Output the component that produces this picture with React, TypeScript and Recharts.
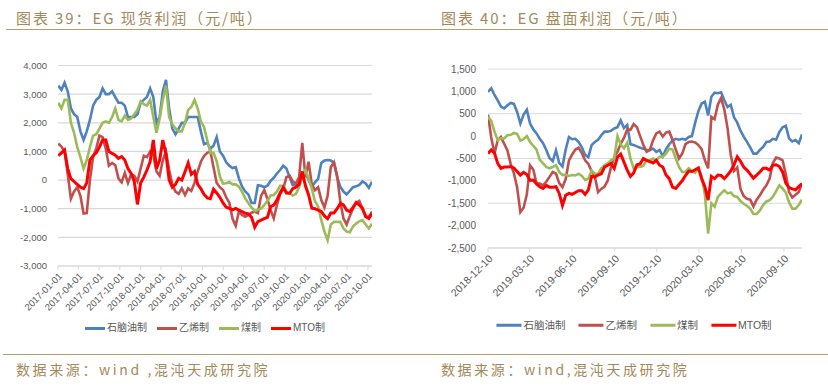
import React from "react";
import { CartesianGrid, Line, LineChart, XAxis, YAxis } from "recharts";

const seriesNames = ["石脑油制", "乙烯制", "煤制", "MTO制"];
const seriesKeys = ["naphtha", "ethylene", "coal", "mto"];
const seriesColors = ["#4F81BD", "#C0504D", "#9BBB59", "#FF0000"];

// 图表 39: spot profit, one reading every 14 days from 2017-01-02
const spotStart = "2017-01-02";
const spotStepDays = 14;
const spotNaphtha = [
  3300, 3150, 3400, 3100, 2500, 2300, 2200, 1700, 1400, 1700,
  2100, 2600, 2800, 2900, 3200, 3000, 3000, 3100, 2900, 2700,
  2700, 2600, 2200, 2200, 2200, 2300, 2700, 2800, 2900, 3200,
  2900, 2000, 2200, 3100, 3500, 2500, 1800, 1600, 1800, 2000,
  2000, 2200, 2200, 2200, 2200, 1700, 1250, 1300, 1100, 1200,
  1500, 1000, 850, 620, 500, 420, 450, 60, -220, -400,
  -500, -800, -800, -180, -200, -250, -200, -30, 80, 230,
  350, 500, 400, 100, -180, -150, -50, 60, 250, 0,
  -230, -80, 40, 600, 680, 700, 680, 600, 100, -230,
  -400, -500, -380, -250, -220, -170, -50, -120, -270, -60,
];
const spotEthylene = [
  1280, 1170, 1000, 200, -650, -400, -250, -550, -1165, -1150,
  0, 800, 1100, 1550, 1500, 1100, 500, 600, 520, 60,
  -80, 250, -100, 200, 150, -50, 400, 850, 800, 1000,
  870, 300, 150, 700, 1000, 350, -150, -400, -480, -290,
  -520, -290, -380, -100, 300, 640, 840, 950, 1000, 450,
  -100, -250, -350, -600, -800, -1350, -1600, -1100, -1220, -1280,
  -1220, -1140, -1100, -1150, -550, -350, -650, -1050, -1340, -870,
  -500, -300, 100, 150, -50, -120, 100, 1300, 100, 640,
  -150, -350, -250, -700, -950, -550, 450, 620, 150, -760,
  -1340, -1550, -1250, -1000, -800, -730, -1000, -1250, -1300, -1100,
];
const spotCoal = [
  2700, 2500, 2800, 2800, 2000, 1650, 1150, 800, 400, 700,
  1150, 1550, 1600, 1800, 2000, 2050, 2000, 2200, 2500, 2100,
  2050, 2250, 2100, 2150, 2300, 2450, 2750, 2650, 2600, 2800,
  2200, 1650, 2150, 2800, 3300, 2200, 1950, 1800, 1700, 1700,
  2000, 2450, 2550, 2800, 2500, 2050, 1850, 1400, 950, 950,
  660, 120, -120, -110, -70, -150, -150, -230, -410, -640,
  -800, -960, -1080, -1040, -1000, -870, -730, -540, -520, -400,
  -200, -200, -400, -460, -540, -480, -250, 130, 350, 60,
  -290, -740, -920, -1400, -1800, -2100, -1550, -1460, -1460, -1460,
  -1690, -1800, -1820, -1620, -1520, -1440, -1400, -1550, -1690, -1520,
];
const spotMto = [
  850, 950, 1050, 400, 50, -50, -150, -250, -300, -100,
  700, 850, 950, 1150, 1400, 1400, 1000, 930, 870, 760,
  820, 700, 400, 230, -50, -850, -100, 100, 350, 640,
  1400, 400, 700, 1400, 900, 0, -250, -150, 60, 0,
  290, 600, 200, 300, -150, -300, -500, -620, -650, -320,
  -450, -600, -800, -950, -990, -1040, -990, -1050, -1100, -1160,
  -1180, -1300, -1650, -1450, -1400, -1350, -1300, -930, -870, -700,
  -450, -250, -450, -460, -300, -250, -150, 300, -200, -520,
  -980, -1000, -1050, -1100, -1250, -1350, -1150, -1150, -1000, -815,
  -870, -1050, -1100, -950, -780, -870, -990, -1280, -1340, -1160,
];
const spotXTicks = [
  "2017-01-01", "2017-04-01", "2017-07-01", "2017-10-01",
  "2018-01-01", "2018-04-01", "2018-07-01", "2018-10-01",
  "2019-01-01", "2019-04-01", "2019-07-01", "2019-10-01",
  "2020-01-01", "2020-04-01", "2020-07-01", "2020-10-01",
];
const spotYTicks = [-3000, -2000, -1000, 0, 1000, 2000, 3000, 4000];
const spotXEnd = "2020-10-19";

// 图表 40: futures profit, one reading every 7 days from 2018-12-10
const futStart = "2018-12-10";
const futStepDays = 7;
const futNaphtha = [
  990, 1070, 920, 800, 660, 620, 690, 740, 720, 540,
  280, 480, 590, 280, 150, 60, -60, -160, -310, -490,
  -560, -320, -600, -680, -300, -20, -70, -60, -130, -250,
  -420, -470, -200, -130, -80, 20, 100, 100, 120, 170,
  200, 350, 180, 250, -180, -200, -230, -260, -280, -310,
  -310, -280, -350, -310, -450, -290, -180, -100, -60, -80,
  -60, -80, -20, 0, 300, 560, 730, 770, 460, 880,
  970, 960, 980, 800, 650, 700, 420, 300, 120, -10,
  -130, -250, -390, -390, -310, -240, -130, -120, -60, -80,
  90, 200, 230, -50, -120, -90, -160, 40,
];
const futEthylene = [
  480, -30, -390, -90, -20, -170, -320, -620, -830, -1150,
  -1700, -1600, -1300, -650, -750, -1060, -1060, -1100, -1020, -910,
  -800, -840, -1050, -1140, -960, -550, -410, -300, -260, -380,
  -540, -620, -780, -900, -1250, -1180, -1130, -990, -690, -470,
  -350, -170, -40, 150, 140, 270, 200, 0, -200, -350,
  -310, -90, 60, 100, -10, 80, 100, -80, -300, -500,
  -390, -180, -130, -120, -140, -200, -290, -540, -720, 430,
  380, 700, 850, 600, 180, -420, -780, -700, -1180, -1340,
  -1400, -1420, -1570, -1420, -1320, -1200, -1100, -950, -600, -480,
  -500, -540, -850, -1250, -1370, -1310, -1250, -1060,
];
const futCoal = [
  430, 340, 100, -90, -50, -50, 20, 30, 70, 50,
  -100, -70, 0, -130, -220, -300, -530, -610, -690, -720,
  -690, -650, -800, -870, -860, -890, -870, -880, -840, -890,
  -980, -950, -770, -840, -840, -720, -650, -610, -540, -500,
  0, -190, -270, -150, -500, -720, -690, -690, -660, -540,
  -540, -500, -540, -460, -460, -390, -280, -300, -500, -690,
  -800, -800, -720, -780, -820, -720, -910, -1300, -2180, -1500,
  -1580, -1360, -1280, -1210, -1280, -1260, -1340, -1360, -1450, -1510,
  -1560, -1620, -1740, -1740, -1660, -1540, -1460, -1430, -1360, -1230,
  -1100, -1170, -1260, -1480, -1620, -1620, -1540, -1420,
];
const futMto = [
  -390, -310, -380, -610, -720, -690, -690, -680, -710, -790,
  -870, -810, -860, -990, -980, -1070, -1130, -1170, -1100, -1140,
  -1140, -1130, -1280, -1550, -1320, -1280, -1300, -1260, -1220, -1220,
  -1300, -1200, -900, -910, -870, -840, -690, -650, -610, -720,
  -470, -400, -580, -760, -900, -820, -640, -620, -500, -540,
  -570, -600, -540, -650, -690, -870, -950, -1140, -1170, -1080,
  -1000, -880, -780, -790, -750, -710, -950, -1130, -1430, -900,
  -950, -870, -880, -950, -870, -780, -640, -460, -560, -690,
  -760, -850, -940, -870, -800, -720, -720, -760, -650, -640,
  -680, -800, -1050, -1150, -1180, -1200, -1130, -1060,
];
const futXTicks = [
  "2018-12-10", "2019-03-10", "2019-06-10", "2019-09-10",
  "2019-12-10", "2020-03-10", "2020-06-10", "2020-09-10",
];
const futYTicks = [-2500, -2000, -1500, -1000, -500, 0, 500, 1000, 1500];
const futXEnd = "2020-10-19";

const DAY = 86400000;
const ms = (d: string) => Date.parse(d);
const fmtDate = (v: number) => new Date(v).toISOString().slice(0, 10);
const fmtNum = (v: number) => v.toLocaleString("en-US");

function buildRows(start: string, step: number, cols: number[][]) {
  const t0 = ms(start);
  return cols[0].map((_, i) => {
    const row: Record<string, number> = { t: t0 + i * step * DAY };
    seriesKeys.forEach((k, j) => (row[k] = cols[j][i]));
    return row;
  });
}

const spotRows = buildRows(spotStart, spotStepDays, [spotNaphtha, spotEthylene, spotCoal, spotMto]);
const futRows = buildRows(futStart, futStepDays, [futNaphtha, futEthylene, futCoal, futMto]);

const FONT = '"Liberation Sans", Arial, "Noto Sans CJK SC", sans-serif';
const CJK = '"Noto Sans CJK SC", sans-serif';
const TAN = "#A4895A";
const AXIS_TXT = "#595959";

type PanelProps = {
  rows: Record<string, number>[];
  xTicks: string[];
  xStart: string;
  xEnd: string;
  yTicks: number[];
  margin: { top: number; right: number; bottom: number; left: number };
  yFont: number;
  xFont: number;
  yGap: number;
};

function ProfitPanel({ rows, xTicks, xStart, xEnd, yTicks, margin, yFont, xFont, yGap }: PanelProps) {
  return (
    <LineChart width={414} height={320} data={rows} margin={margin}>
      <CartesianGrid vertical={false} stroke="#D9D9D9" strokeWidth={1.2} />
      <XAxis
        dataKey="t"
        type="number"
        domain={[ms(xStart), ms(xEnd)]}
        ticks={xTicks.map(ms)}
        tickFormatter={fmtDate}
        interval={0}
        height={50}
        angle={-45}
        textAnchor="end"
        tickSize={4}
        tickMargin={2}
        stroke="#D9D9D9"
        tick={{ fill: AXIS_TXT, fontSize: xFont, fontFamily: FONT }}
        allowDataOverflow
      />
      <YAxis
        type="number"
        domain={[yTicks[0], yTicks[yTicks.length - 1]]}
        ticks={yTicks}
        tickFormatter={fmtNum}
        width={50}
        axisLine={false}
        tickLine={false}
        tickSize={0}
        tickMargin={yGap}
        tick={{ fill: AXIS_TXT, fontSize: yFont, fontFamily: FONT }}
      />
      {seriesKeys.map((k, i) => (
        <Line
          key={k}
          dataKey={k}
          type="linear"
          stroke={seriesColors[i]}
          strokeWidth={i === 3 ? 3 : 2.6}
          dot={false}
          isAnimationActive={false}
        />
      ))}
    </LineChart>
  );
}

function LegendRow({ cx, cy, swatch, fontSize, gap }: { cx: number; cy: number; swatch: number; fontSize: number; gap: number }) {
  return (
    <div
      style={{
        position: "absolute",
        left: cx,
        top: cy,
        transform: "translate(-50%, -50%)",
        display: "flex",
        alignItems: "center",
        gap,
        whiteSpace: "nowrap",
      }}
    >
      {seriesNames.map((n, i) => (
        <div key={n} style={{ display: "flex", alignItems: "center" }}>
          <span style={{ display: "inline-block", width: swatch, height: 3, background: seriesColors[i], marginRight: 2 }} />
          <span style={{ fontSize, color: AXIS_TXT, fontFamily: FONT, lineHeight: 1 }}>{n}</span>
        </div>
      ))}
    </div>
  );
}

const textStyle = (left: number, top: number, size: number, spacing: number): React.CSSProperties => ({
  position: "absolute",
  left,
  top,
  fontSize: size,
  letterSpacing: spacing,
  color: TAN,
  fontFamily: CJK,
  lineHeight: 1,
  whiteSpace: "nowrap",
  transform: "translateY(-50%)",
});

export default function App() {
  return (
    <div style={{ position: "fixed", left: 0, top: 0, width: 828, height: 392, background: "#fff", overflow: "hidden" }}>
      <div style={textStyle(16, 17, 15, 1.9)}>图表 39：EG 现货利润（元/吨）</div>
      <div style={textStyle(441, 17, 15, 1.9)}>图表 40：EG 盘面利润（元/吨）</div>
      <div style={{ position: "absolute", left: 6, top: 29, width: 822, height: 1, background: "#B59C6E" }} />

      <div style={{ position: "absolute", left: 0, top: 0 }}>
        <ProfitPanel
          rows={spotRows}
          xTicks={spotXTicks}
          xStart="2017-01-01"
          xEnd={spotXEnd}
          yTicks={spotYTicks}
          margin={{ top: 65.5, right: 42, bottom: 4, left: 8 }}
          yFont={9.5}
          xFont={9.5}
          yGap={11}
        />
      </div>
      <div style={{ position: "absolute", left: 414, top: 0 }}>
        <ProfitPanel
          rows={futRows}
          xTicks={futXTicks}
          xStart={futStart}
          xEnd={futXEnd}
          yTicks={futYTicks}
          margin={{ top: 69, right: 26, bottom: 22, left: 24 }}
          yFont={10}
          xFont={10.5}
          yGap={12}
        />
      </div>

      <LegendRow cx={205} cy={328} swatch={20} fontSize={10} gap={10} />
      <LegendRow cx={634} cy={325} swatch={25} fontSize={10.5} gap={13} />

      <div style={{ position: "absolute", left: 3, top: 354, width: 825, height: 1, background: "#B59C6E" }} />
      <div style={textStyle(16, 369, 14, 2.6)}>数据来源：wind ,混沌天成研究院</div>
      <div style={textStyle(441, 369, 14, 2.6)}>数据来源：wind,混沌天成研究院</div>
    </div>
  );
}
